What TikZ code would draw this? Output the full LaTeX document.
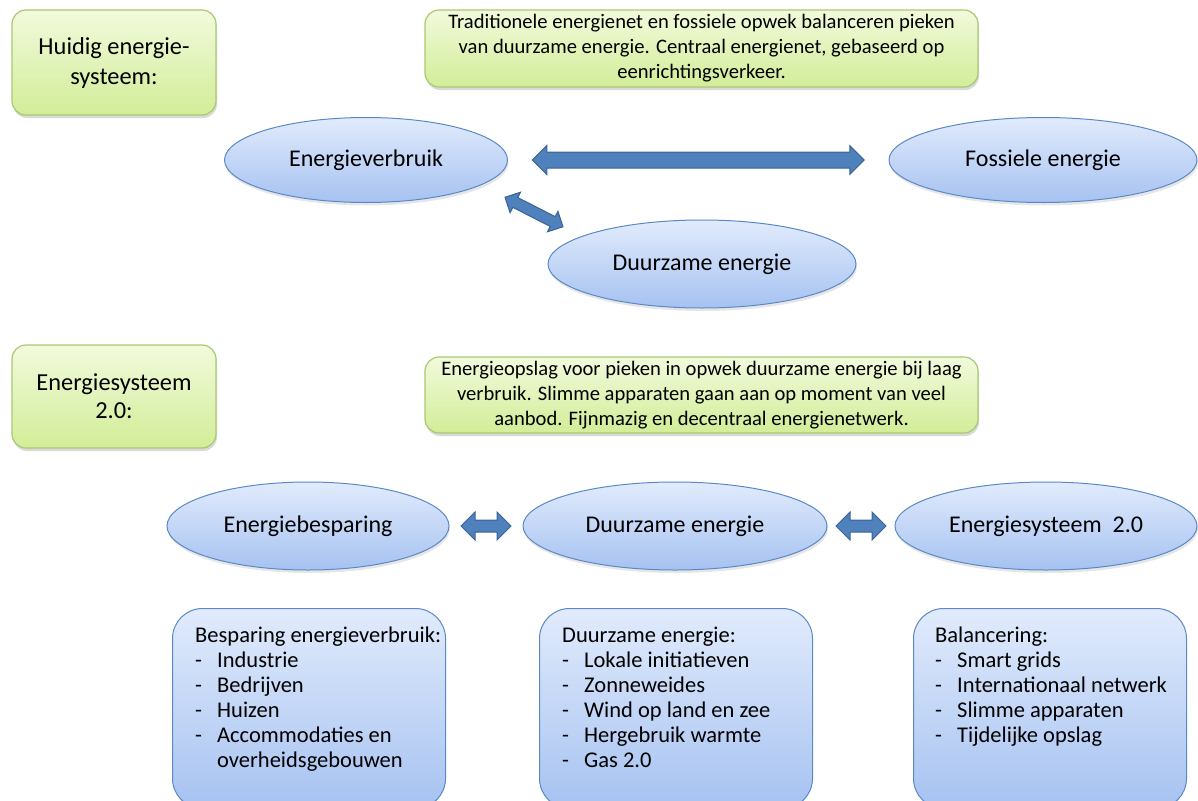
\documentclass[tikz,border=0pt]{standalone}
\usepackage{fontspec}
\setmainfont{Carlito}
\usetikzlibrary{shapes.geometric, shapes.arrows, positioning, shadows, calc}

\definecolor{greenedge}{HTML}{A9C874}
\definecolor{greentop}{HTML}{F2FADC}
\definecolor{greenbot}{HTML}{D2ED98}
\definecolor{blueedge}{HTML}{5B89C6}
\definecolor{bluetop}{HTML}{E1EBFC}
\definecolor{bluebot}{HTML}{A6C2F1}
\definecolor{arrowfill}{HTML}{4F81BD}
\definecolor{arrowedge}{HTML}{3A6293}
\newcommand\itm[1]{\makebox[22pt][l]{-}#1}

\begin{document}
\begin{tikzpicture}[x=1pt, y=1pt, font=\fontsize{20.6}{25}\selectfont]
        \tikzstyle{note} = [rectangle, rounded corners=14pt, draw=greenedge, line width=1.2pt, top color=greentop, bottom color=greenbot, align=center, drop shadow={opacity=0.3, shadow xshift=1pt, shadow yshift=-3pt}]
        \tikzstyle{topic} = [ellipse, draw=blueedge, line width=1pt, top color=bluetop, bottom color=bluebot, font=\fontsize{24}{28}\selectfont, drop shadow={opacity=0.2, shadow xshift=1pt, shadow yshift=-3pt}]
        \tikzstyle{list} = [rectangle, rounded corners=30pt, draw=blueedge, line width=1pt, top color=bluetop, bottom color=bluebot, anchor=north west, minimum width=273pt, minimum height=200pt]
        \tikzstyle{listtext} = [anchor=north west, align=left, inner sep=0pt, font=\fontsize{22.5}{25}\selectfont]
        \tikzstyle{fat} = [double arrow, draw=arrowedge, fill=arrowfill, line width=1pt, inner xsep=0pt, double arrow head extend=7pt]

        \clip (0,0) rectangle (1198,-800);
        \useasboundingbox (0,0) rectangle (1198,-800);

        % current system
        \node (huidig) at (114,-62.5) [note, minimum width=204pt, minimum height=105pt, font=\fontsize{24.4}{30}\selectfont] {Huidig energie-\\systeem:};
        \node (uitleg1) at (701.5,-48.5) [note, minimum width=553pt, minimum height=77pt, text depth=4pt] {Traditionele energienet en fossiele opwek balanceren pieken\\van duurzame energie. Centraal energienet, gebaseerd op\\eenrichtingsverkeer.};
        \node (verbruik) at (366,-160) [topic, minimum width=283pt, minimum height=85pt] {Energieverbruik};
        \node (fossiel) at (1043,-160) [topic, minimum width=308pt, minimum height=85pt] {Fossiele energie};
        \node (duurzaam) at (702,-264) [topic, minimum width=308pt, minimum height=88pt] {Duurzame energie};

        \node (pijl1) at ($(verbruik.east)!0.5!(fossiel.west)$) [fat, inner ysep=7.5pt, double arrow head extend=6.5pt, minimum height=332pt] {};
        \node (pijl2) at ($(verbruik)!0.5!(duurzaam)$) [fat, rotate=-27, inner ysep=5pt, double arrow head extend=6pt, minimum height=65pt] {};

        % system 2.0
        \node (nieuw) at (114,-396.5) [note, minimum width=204pt, minimum height=103pt, font=\fontsize{24.4}{28}\selectfont] {Energiesysteem\\2.0:};
        \node (uitleg2) at (701.5,-395) [note, minimum width=553pt, minimum height=76pt, text depth=4pt] {Energieopslag voor pieken in opwek duurzame energie bij laag\\verbruik. Slimme apparaten gaan aan op moment van veel\\aanbod. Fijnmazig en decentraal energienetwerk.};
        \node (besparing) at (308,-526) [topic, minimum width=282pt, minimum height=88pt] {Energiebesparing};
        \node (bron) at (675,-526) [topic, minimum width=304pt, minimum height=88pt] {Duurzame energie};
        \node (systeem) at (1046,-526) [topic, minimum width=302pt, minimum height=88pt] {Energiesysteem\ \ 2.0};

        \node (pijl3) at ($(besparing.east)!0.5!(bron.west)$) [fat, inner ysep=5.5pt, double arrow head extend=8pt, minimum height=50pt] {};
        \node (pijl4) at ($(bron.east)!0.5!(systeem.west)$) [fat, inner ysep=5.5pt, double arrow head extend=8pt, minimum height=50pt] {};

        \node (lijst1) at (172,-608) [list] {};
        \node (lijst2) at (539,-608) [list] {};
        \node (lijst3) at (913,-608) [list] {};
        \node at ([shift={(23,-19)}]lijst1.north west) [listtext] {Besparing energieverbruik:\\\itm{Industrie}\\\itm{Bedrijven}\\\itm{Huizen}\\\itm{Accommodaties en}\\\hspace*{22pt}overheidsgebouwen};
        \node at ([shift={(23,-19)}]lijst2.north west) [listtext] {Duurzame energie:\\\itm{Lokale initiatieven}\\\itm{Zonneweides}\\\itm{Wind op land en zee}\\\itm{Hergebruik warmte}\\\itm{Gas 2.0}};
        \node at ([shift={(22,-19)}]lijst3.north west) [listtext] {Balancering:\\\itm{Smart grids}\\\itm{Internationaal netwerk}\\\itm{Slimme apparaten}\\\itm{Tijdelijke opslag}};
    \end{tikzpicture}
\end{document}
